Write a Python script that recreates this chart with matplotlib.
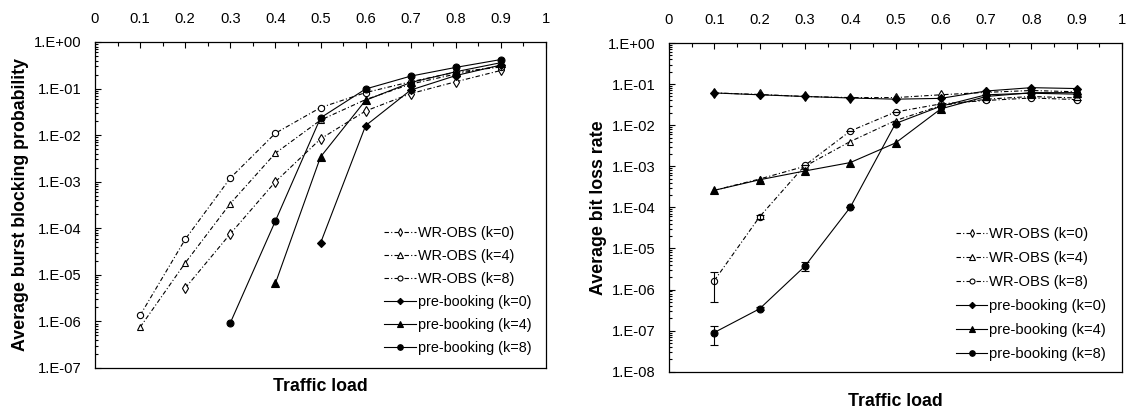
import numpy as np
import matplotlib
matplotlib.use("Agg")
import matplotlib.pyplot as plt
from matplotlib.ticker import FixedLocator, FuncFormatter, MultipleLocator, NullFormatter

plt.rcParams['font.family'] = ['Liberation Sans', 'DejaVu Sans']

# traffic load values (x axis)
load = [0.1, 0.2, 0.3, 0.4, 0.5, 0.6, 0.7, 0.8, 0.9]
nan = np.nan

# left panel: average burst blocking probability
bbp_wr_k0 = [nan, 5.2e-6, 7.6e-5, 1.0e-3, 8.3e-3, 3.3e-2, 7.8e-2, 0.14, 0.245]
bbp_wr_k4 = [7.5e-7, 1.8e-5, 3.4e-4, 4.1e-3, 2.1e-2, 5.8e-2, 0.125, 0.205, 0.31]
bbp_wr_k8 = [1.35e-6, 5.8e-5, 1.2e-3, 1.1e-2, 3.9e-2, 8.2e-2, 0.14, 0.225, 0.29]
bbp_pb_k0 = [nan, nan, nan, nan, 4.8e-5, 1.6e-2, 9.3e-2, 0.19, 0.32]
bbp_pb_k4 = [nan, nan, nan, 6.6e-6, 3.4e-3, 5.6e-2, 0.135, 0.23, 0.36]
bbp_pb_k8 = [nan, nan, 9.3e-7, 1.44e-4, 2.35e-2, 9.8e-2, 0.185, 0.285, 0.42]

# right panel: average bit loss rate
blr_wr_k0 = [0.061, 0.056, 0.050, 0.047, 0.047, 0.055, 0.063, 0.070, 0.065]
blr_wr_k4 = [2.6e-4, 4.9e-4, 1.0e-3, 4.0e-3, 1.3e-2, 0.030, 0.043, 0.050, 0.046]
blr_wr_k8 = [1.65e-6, 5.9e-5, 1.05e-3, 7.2e-3, 2.1e-2, 0.033, 0.040, 0.046, 0.042]
blr_pb_k0 = [0.061, 0.055, 0.050, 0.046, 0.043, 0.045, 0.068, 0.082, 0.078]
blr_pb_k4 = [2.6e-4, 4.7e-4, 7.7e-4, 1.23e-3, 3.7e-3, 0.025, 0.050, 0.062, 0.062]
blr_pb_k8 = [9.0e-8, 3.4e-7, 3.7e-6, 1.0e-4, 1.1e-2, 0.029, 0.055, 0.060, 0.057]

# error bar bounds (right panel, k=8 series)
blr_wr_k8_lo = [5.0e-7, 5.3e-5, 1.05e-3, 7.2e-3, 2.1e-2, 0.033, 0.040, 0.046, 0.042]
blr_wr_k8_hi = [2.6e-6, 6.5e-5, 1.05e-3, 7.2e-3, 2.1e-2, 0.033, 0.040, 0.046, 0.042]
blr_pb_k8_lo = [4.5e-8, 3.1e-7, 2.8e-6, 1.0e-4, 1.1e-2, 0.029, 0.055, 0.060, 0.057]
blr_pb_k8_hi = [1.3e-7, 3.7e-7, 4.6e-6, 1.0e-4, 1.1e-2, 0.029, 0.055, 0.060, 0.057]

labels = ["WR-OBS (k=0)", "WR-OBS (k=4)", "WR-OBS (k=8)",
          "pre-booking (k=0)", "pre-booking (k=4)", "pre-booking (k=8)"]

dashdot = (0, (4, 2, 1, 2))
styles = [
    dict(ls=dashdot, marker='d', mfc='white', ms=5),
    dict(ls=dashdot, marker='^', mfc='white', ms=5),
    dict(ls=dashdot, marker='o', mfc='white', ms=4.5),
    dict(ls='-', marker='D', mfc='black', ms=4),
    dict(ls='-', marker='^', mfc='black', ms=5.5),
    dict(ls='-', marker='o', mfc='black', ms=5),
]


def sci_label(v, pos):
    e = int(round(np.log10(v)))
    return "1.E+00" if e == 0 else "1.E-%02d" % (-e)


def style_axes(ax, min_exp):
    ax.set_yscale('log')
    ax.set_xlim(0, 1)
    ax.set_ylim(10.0 ** min_exp, 1)
    ax.xaxis.tick_top()
    ax.xaxis.set_major_locator(MultipleLocator(0.1))
    ax.xaxis.set_minor_locator(MultipleLocator(0.05))
    ax.xaxis.set_major_formatter(FuncFormatter(lambda v, p: "%g" % round(v, 1)))
    decades = [10.0 ** e for e in range(min_exp, 1)]
    minors = [m * d for d in decades[:-1] for m in range(2, 10)]
    ax.yaxis.set_major_locator(FixedLocator(decades))
    ax.yaxis.set_minor_locator(FixedLocator(minors))
    ax.yaxis.set_major_formatter(FuncFormatter(sci_label))
    ax.yaxis.set_minor_formatter(NullFormatter())
    ax.tick_params(axis='x', which='both', direction='in', top=True, bottom=False,
                   labelbottom=False, labelsize=10.6, pad=11.5, width=0.8)
    ax.tick_params(axis='x', which='major', length=4)
    ax.tick_params(axis='x', which='minor', length=3)
    ax.tick_params(axis='y', which='both', direction='in', left=True, right=False,
                   labelsize=10.6, pad=9.5, width=0.8)
    ax.tick_params(axis='y', which='major', length=4)
    ax.tick_params(axis='y', which='minor', length=2.5)
    for s in ax.spines.values():
        s.set_linewidth(0.9)


fig = plt.figure(figsize=(11.27, 4.15), dpi=100)
ax1 = fig.add_axes([0.0843, 0.1133, 0.4002, 0.7855])
ax2 = fig.add_axes([0.5936, 0.1043, 0.402, 0.792])

left_series = [bbp_wr_k0, bbp_wr_k4, bbp_wr_k8, bbp_pb_k0, bbp_pb_k4, bbp_pb_k8]
right_series = [blr_wr_k0, blr_wr_k4, blr_wr_k8, blr_pb_k0, blr_pb_k4, blr_pb_k8]

for ys, lab, st in zip(left_series, labels, styles):
    ax1.plot(load, ys, color='black', lw=0.8, mec='black', mew=0.8, label=lab, **st)

for ys, lab, st in zip(right_series, labels, styles):
    ax2.plot(load, ys, color='black', lw=0.8, mec='black', mew=0.8, label=lab, **st)

for ys, lo, hi in [(blr_wr_k8, blr_wr_k8_lo, blr_wr_k8_hi),
                   (blr_pb_k8, blr_pb_k8_lo, blr_pb_k8_hi)]:
    ys = np.array(ys)
    err = [ys - np.array(lo), np.array(hi) - ys]
    ax2.errorbar(load, ys, yerr=err, fmt='none', ecolor='black', elinewidth=0.8,
                 capsize=3, capthick=0.8)

style_axes(ax1, -7)
style_axes(ax2, -8)

ax1.set_ylabel("Average burst blocking probability", fontsize=12.8, fontweight='bold')
ax1.yaxis.set_label_coords(-0.146, 0.5)
ax1.xaxis.set_label_position('bottom')
ax1.set_xlabel("Traffic load", fontsize=12.8, fontweight='bold', labelpad=7)

ax2.set_ylabel("Average bit loss rate", fontsize=12.8, fontweight='bold')
ax2.yaxis.set_label_coords(-0.137, 0.5)
ax2.xaxis.set_label_position('bottom')
ax2.set_xlabel("Traffic load", fontsize=12.8, fontweight='bold', labelpad=15)

ax1.legend(loc='lower right', bbox_to_anchor=(0.99, 0.008), frameon=False, fontsize=10.4,
           handlelength=2.2, handletextpad=0.15, labelspacing=0.62, markerscale=0.8,
           borderpad=0.2)
ax2.legend(loc='lower right', bbox_to_anchor=(0.988, 0.0), frameon=False, fontsize=10.6,
           handlelength=2.1, handletextpad=0.15, labelspacing=0.68, markerscale=0.8,
           borderpad=0.2)

fig.savefig("out.png", dpi=100)
